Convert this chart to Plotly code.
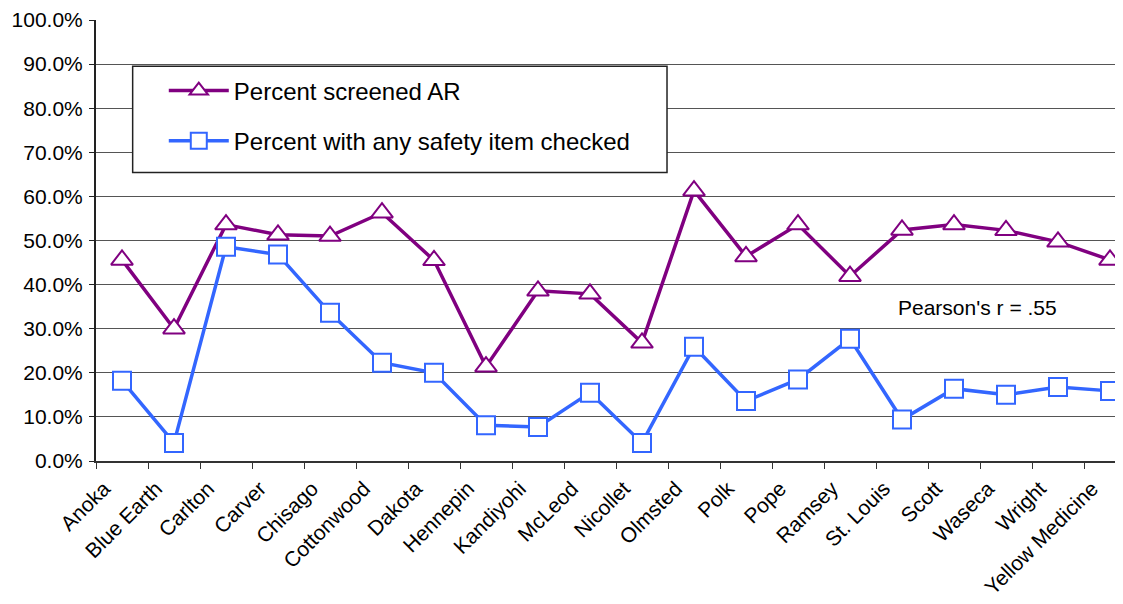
import plotly.graph_objects as go

##### data
counties = ['Anoka', 'Blue Earth', 'Carlton', 'Carver', 'Chisago', 'Cottonwood', 'Dakota',
            'Hennepin', 'Kandiyohi', 'McLeod', 'Nicollet', 'Olmsted', 'Polk', 'Pope',
            'Ramsey', 'St. Louis', 'Scott', 'Waseca', 'Wright', 'Yellow Medicine']
screened_ar = [0.456, 0.300, 0.536, 0.513, 0.510, 0.563, 0.455, 0.214, 0.386, 0.379,
               0.268, 0.613, 0.464, 0.536, 0.419, 0.524, 0.536, 0.523, 0.497, 0.456]
safety_checked = [0.182, 0.041, 0.486, 0.468, 0.336, 0.223, 0.200, 0.081, 0.077, 0.155,
                  0.041, 0.259, 0.136, 0.185, 0.277, 0.094, 0.164, 0.150, 0.168, 0.159]
pearson_text = "Pearson's r = .55"

PURPLE = '#800080'
BLUE = '#3366FF'
FONT = 'Arial, Liberation Sans, sans-serif'

fig = go.Figure()
fig.add_trace(go.Scatter(
    x=counties, y=screened_ar, name='Percent screened AR', mode='lines+markers',
    legendgroup='a',
    line=dict(color=PURPLE, width=3.5),
    marker=dict(symbol='triangle-up', size=19, color='white',
                line=dict(color=PURPLE, width=2))))
fig.add_trace(go.Scatter(
    x=counties, y=safety_checked, name='Percent with any safety item checked',
    mode='lines+markers', legendgroup='b',
    line=dict(color=BLUE, width=3.5),
    marker=dict(symbol='square', size=18, color='white',
                line=dict(color=BLUE, width=2))))

# legend frame (white box over the gridlines)
fig.add_shape(type='rect', xref='paper', yref='paper',
              x0=0.0357, x1=0.556, y0=0.654, y1=0.895,
              line=dict(color='#222', width=1.5), fillcolor='white', layer='above')

fig.add_annotation(text=pearson_text, xref='x', yref='y', x=16.46, y=0.349,
                   showarrow=False, font=dict(family=FONT, size=21, color='black'))

# page body has an 8px margin, so the figure is 8px smaller and margins shifted
fig.update_layout(
    width=1115, height=596,
    margin=dict(l=88, r=0, t=12, b=143),
    paper_bgcolor='white', plot_bgcolor='white',
    font=dict(family=FONT, size=21, color='black'),
    legend=dict(x=0.066, y=0.89, xanchor='left', yanchor='top',
                bgcolor='rgba(0,0,0,0)', borderwidth=0,
                font=dict(family=FONT, size=24, color='black'),
                traceorder='grouped', tracegroupgap=16, itemwidth=60),
)
fig.update_xaxes(range=[-0.5, 19.25], automargin=False, tickangle=-45,
                 showline=True, linecolor='#333', linewidth=2,
                 ticks='outside', tickson='boundaries', ticklen=6, tickcolor='#333',
                 showgrid=False, tickfont=dict(family=FONT, size=21),
                 ticklabelshift=-18, ticklabelstandoff=5, ticklabeloverflow='allow')
fig.update_yaxes(range=[0, 1], automargin=False, tickformat='.1%', dtick=0.1,
                 showline=True, linecolor='#222', linewidth=2,
                 ticks='outside', ticklen=5, tickcolor='#222',
                 showgrid=True, gridcolor='#555', gridwidth=1, zeroline=False,
                 tickfont=dict(family=FONT, size=21), ticklabelstandoff=2,
                 ticklabeloverflow='allow')

fig.write_html('out.html')
